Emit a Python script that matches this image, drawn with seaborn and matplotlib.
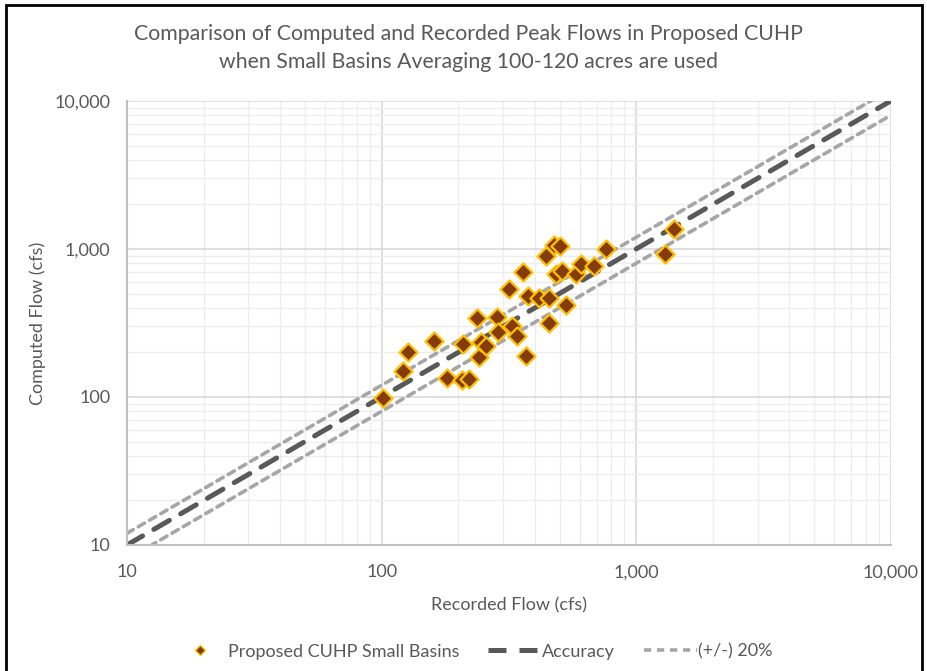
import numpy as np
import pandas as pd
import matplotlib
matplotlib.use("Agg")
import matplotlib.pyplot as plt
import matplotlib.ticker as mticker
from matplotlib.lines import Line2D
from matplotlib.patches import Rectangle
import seaborn as sns

# Recorded vs computed peak flows (cfs)
recorded = [101, 121, 127, 160, 180, 207, 220, 209, 236, 242, 246, 258,
            284, 286, 316, 325, 340, 359, 369, 375, 414, 453, 453, 444,
            477, 503, 486, 511, 532, 579, 607, 681, 763, 1301, 1411]
computed = [98, 150, 200, 239, 135, 130, 132, 227, 342, 186, 235, 221,
            346, 276, 534, 302, 258, 703, 188, 481, 463, 463, 316, 897,
            1064, 1048, 678, 710, 418, 675, 788, 764, 995, 921, 1359]

# reference lines
line_x = [10, 10000]
accuracy = [10, 10000]
upper_20 = [12, 12000]
lower_20 = [8, 8000]

title = "Comparison of Computed and Recorded Peak Flows in Proposed CUHP\nwhen Small Basins Averaging 100-120 acres are used"

sns.set_style("white")
plt.rcParams['font.family'] = ['Lato', 'DejaVu Sans']
txt = "#595959"

fig = plt.figure(figsize=(9.28, 6.71), dpi=100)
ax = fig.add_axes([0.1369, 0.1878, 0.8229, 0.6617])

df = pd.DataFrame({"Recorded": recorded, "Computed": computed})

sns.lineplot(x=line_x, y=upper_20, ax=ax, color="#A6A6A6", linewidth=2.6,
             dashes=False, zorder=2)
sns.lineplot(x=line_x, y=lower_20, ax=ax, color="#A6A6A6", linewidth=2.6,
             dashes=False, zorder=2)
sns.lineplot(x=line_x, y=accuracy, ax=ax, color="#595959", linewidth=3.6,
             dashes=False, zorder=2)
for ln, pat in zip(ax.lines, [(2.0, 1.6), (2.0, 1.6), (3.6, 2.6)]):
    ln.set_linestyle((0, pat))
    ln.set_dash_capstyle("round")

sns.scatterplot(data=df, x="Recorded", y="Computed", ax=ax, marker="D",
                s=85, color="#843C0C", edgecolor="#FFC000", linewidth=1.6,
                zorder=3)

ax.set_xscale("log")
ax.set_yscale("log")
ax.set_xlim(10, 10000)
ax.set_ylim(10, 10000)

fmt = mticker.FuncFormatter(lambda v, p: f"{v:,.0f}")
for axis in (ax.xaxis, ax.yaxis):
    axis.set_major_locator(mticker.LogLocator(base=10))
    axis.set_minor_locator(mticker.LogLocator(base=10, subs=np.arange(2, 10)))
    axis.set_major_formatter(fmt)
    axis.set_minor_formatter(mticker.NullFormatter())

ax.grid(True, which="major", color="#D9D9D9", linewidth=1.2, zorder=0)
ax.grid(True, which="minor", color="#EDEDED", linewidth=1.0, zorder=0)
ax.set_axisbelow(True)
for s in ["top", "right"]:
    ax.spines[s].set_visible(False)
for s in ["left", "bottom"]:
    ax.spines[s].set_color("#BFBFBF")
    ax.spines[s].set_linewidth(1.5)
ax.tick_params(axis="both", which="major", length=5, width=1, color="#BFBFBF",
               labelsize=13, labelcolor=txt)
ax.tick_params(axis="x", which="major", pad=9)
ax.tick_params(axis="y", which="major", pad=7)
ax.tick_params(axis="both", which="minor", length=0)

ax.set_xlabel("Recorded Flow (cfs)", fontsize=13, color=txt, labelpad=12)
ax.set_ylabel("Computed Flow (cfs)", fontsize=13, color=txt, labelpad=6)

fig.text(0.505, 0.929, title, ha="center", va="center", fontsize=15.3,
         color=txt, linespacing=1.5)

handles = [
    Line2D([], [], marker="D", color="#843C0C", markeredgecolor="#FFC000",
           markersize=5.5, linestyle="none"),
    Line2D([], [], color="#595959", linewidth=3.6, linestyle=(0, (3.6, 2.6))),
    Line2D([], [], color="#A6A6A6", linewidth=2.6, linestyle=(0, (2.0, 1.6))),
]
labels = ["Proposed CUHP Small Basins", "Accuracy", "(+/-) 20%"]
fig.legend(handles, labels, loc="center", bbox_to_anchor=(0.51, 0.029),
           ncol=3, frameon=False, fontsize=13, labelcolor=txt,
           handlelength=2.9, columnspacing=1.6, handletextpad=0.1)

fig.patches.append(Rectangle((0.006, -0.05), 0.987, 1.043,
                             transform=fig.transFigure, fill=False,
                             edgecolor="black", linewidth=2))

fig.savefig("out.png", dpi=100)
